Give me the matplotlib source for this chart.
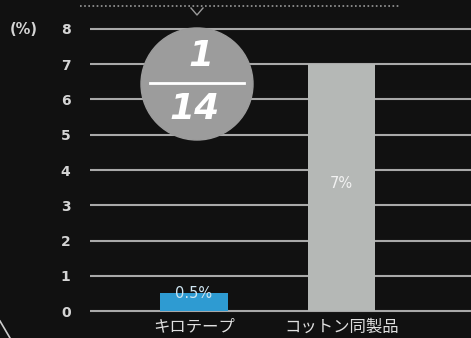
import matplotlib
matplotlib.use('Agg')
import matplotlib.pyplot as plt
from matplotlib.patches import Ellipse
from matplotlib.lines import Line2D

# data
categories = ['キロテープ', 'コットン同製品']
values = [0.5, 7]
value_labels = ['0.5%', '7%']
bar_colors = ['#2e9bd2', '#b5b8b6']
yticks = [0, 1, 2, 3, 4, 5, 6, 7, 8]

W, H = 471, 338
bg = '#111111'
jp = ['Noto Sans CJK JP', 'DejaVu Sans']

fig = plt.figure(figsize=(W / 100, H / 100), dpi=100, facecolor=bg)
# axes: left edge of gridlines at x=90px, y=0 at 311px, y=8 at 29px
ax = fig.add_axes([90 / W, (H - 321.6) / H, 1 - 90 / W, 303.2 / H])
ax.set_facecolor(bg)

x = [0, 1]
ax.bar(x, values, width=0.455, color=bar_colors, zorder=2)
ax.set_xlim(-0.705, 1.878)
ax.set_ylim(-0.3, 8.3)
ax.set_yticks(yticks)
ax.set_xticks([])
ax.yaxis.grid(True, color='#a9a9a9', linewidth=1.5)
ax.set_axisbelow(True)
ax.tick_params(axis='y', length=0, pad=14, colors='#d5d5d5', labelsize=10)
for t in ax.get_yticklabels():
    t.set_fontweight('bold')
for s in ax.spines.values():
    s.set_visible(False)

# value labels
ax.text(x[0], values[0], value_labels[0], ha='center', va='center',
        color='#cfe6f2', fontsize=10.5, zorder=3)
ax.text(x[1], 3.63, value_labels[1], ha='center', va='center',
        color='#f2f2f2', fontsize=10.5, zorder=3)

# category labels
for xi, c in zip(x, categories):
    px = ax.transData.transform((xi, 0))[0] / W
    fig.text(px, 1 - 327 / H, c, ha='center', va='center', color='#e0e0e0',
             fontsize=11.8, family=jp)

fig.text(24 / W, 1 - 29 / H, '(%)', ha='center', va='center',
         color='#d5d5d5', fontsize=10.5, fontweight='bold')

# circle with 1/14
cx, cy, r = 197, 84, 56
fig.add_artist(Ellipse((cx / W, 1 - cy / H), 2 * r / W, 2 * r / H,
                       transform=fig.transFigure, color='#9c9c9c', zorder=5))
fig.add_artist(Line2D([150 / W, 244 / W], [1 - 83 / H, 1 - 83 / H],
                      transform=fig.transFigure, color='white', lw=2, zorder=6))
fig.text(201 / W, 1 - 56 / H, '1', ha='center', va='center', color='white',
         fontsize=26, fontweight='bold', style='italic', zorder=7)
fig.text(195 / W, 1 - 109 / H, '14', ha='center', va='center', color='white',
         fontsize=26, fontweight='bold', style='italic', zorder=7)

# dotted line on top with small chevron
fig.add_artist(Line2D([80 / W, 400 / W], [1 - 6 / H, 1 - 6 / H],
                      transform=fig.transFigure, color='#9a9a9a', lw=1.2,
                      linestyle=(0, (1, 1.5))))
fig.add_artist(Line2D([191 / W, 197 / W, 203 / W], [1 - 8 / H, 1 - 15 / H, 1 - 8 / H],
                      transform=fig.transFigure, color='#9a9a9a', lw=1))

# corner stroke bottom left
fig.add_artist(Line2D([0, 10 / W], [1 - 321 / H, 0],
                      transform=fig.transFigure, color='#cccccc', lw=1.2))

fig.savefig('out.png', dpi=100, facecolor=bg)
